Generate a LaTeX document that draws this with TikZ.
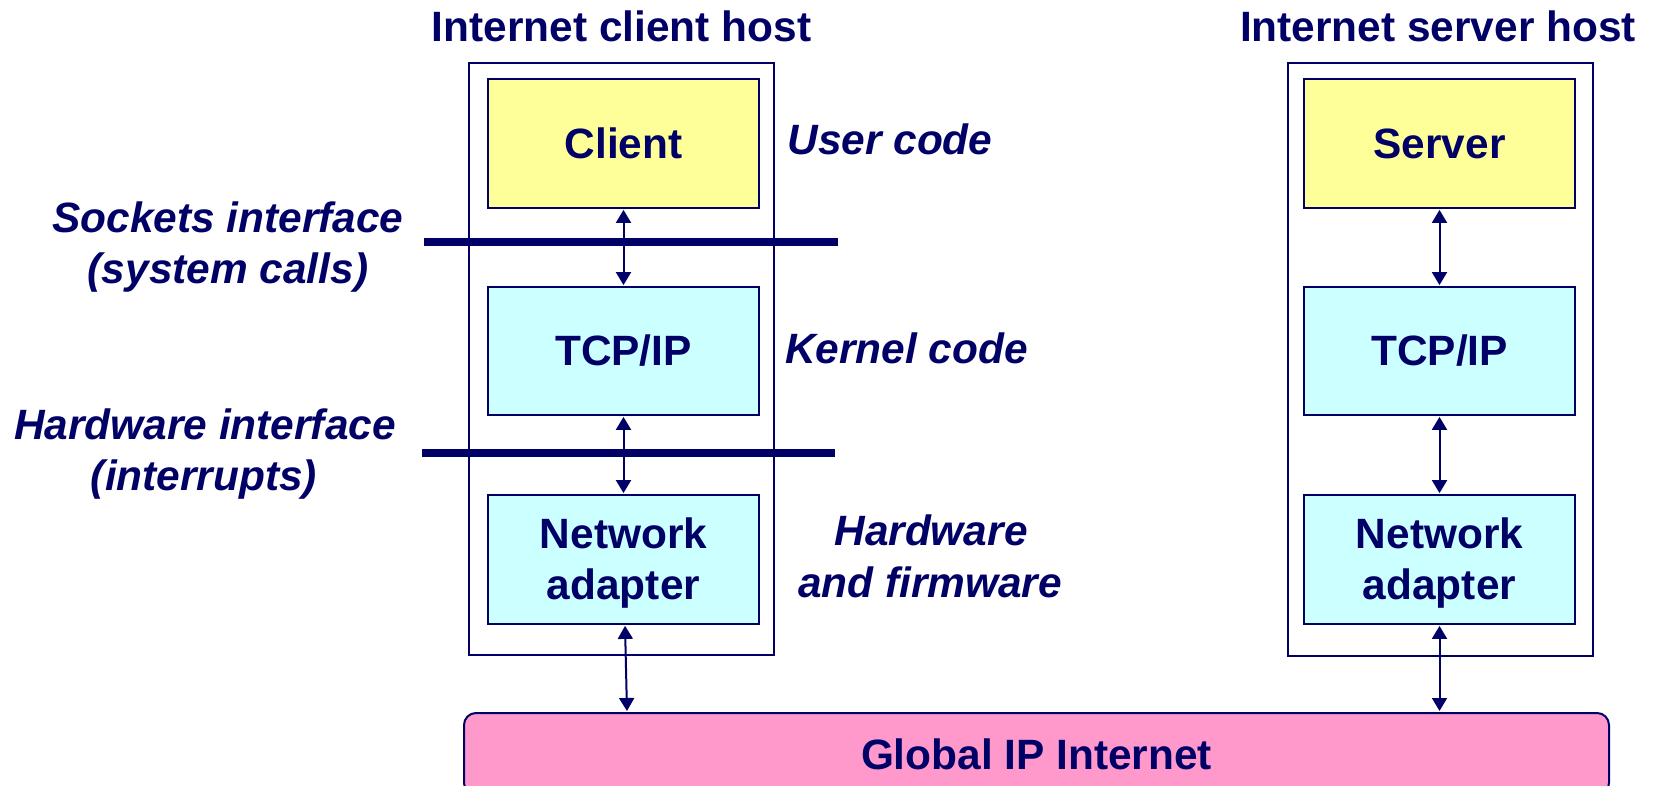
\documentclass[tikz,border=0pt]{standalone}
\usepackage{fontspec}
\setmainfont{Liberation Sans}
\usetikzlibrary{arrows.meta}
\definecolor{navy}{RGB}{0,0,102}
\definecolor{useryellow}{RGB}{255,255,153}
\definecolor{kernelcyan}{RGB}{204,255,255}
\definecolor{netpink}{RGB}{255,153,204}
\begin{document}
\begin{tikzpicture}[x=0.5pt,y=-0.5pt,
  every node/.style={text=navy, font=\fontsize{21.2}{25.5}\selectfont\bfseries},
  hostbox/.style={draw=navy, line width=1pt, minimum width=152.5pt, minimum height=296pt, inner sep=0pt},
  layerbox/.style={draw=navy, line width=0.9pt, minimum width=135.5pt, inner sep=0pt, align=center},
  userbox/.style={layerbox, fill=useryellow, minimum height=64.5pt},
  kernbox/.style={layerbox, fill=kernelcyan, minimum height=64pt},
  hwbox/.style={layerbox, fill=kernelcyan, minimum height=64.5pt},
  netbox/.style={draw=navy, line width=1pt, fill=netpink, rounded corners=6pt, minimum width=572.5pt, minimum height=41pt, inner sep=0pt},
  lbl/.style={anchor=base, font=\fontsize{21.2}{25.5}\selectfont\bfseries\itshape},
  ttl/.style={anchor=base},
  iface/.style={draw=navy, line width=4pt},
  link/.style={draw=navy, line width=1pt, {Triangle[length=6.5pt,width=7.5pt]}-{Triangle[length=6.5pt,width=7.5pt]}, shorten <=0.5pt, shorten >=0.5pt}]
\useasboundingbox (0,0) rectangle (1653,786);

% titles
\node[ttl] (tclient) at (621.5,42) {Internet client host};
\node[ttl] (tserver) at (1438,42) {Internet server host};

% host frames
\node[hostbox] (chost) at (621.5,359) {};
\node[hostbox] (shost) at (1440.5,359.5) {};

% global internet
\node[netbox] (inet) at (1036.5,754) {Global IP Internet};

% interface lines
\coordinate (sockL) at (424,242);
\coordinate (sockR) at (838,242);
\coordinate (hwL) at (422,453);
\coordinate (hwR) at (835,453);
\draw[iface] (sockL) -- (sockR);
\draw[iface] (hwL) -- (hwR);

% client stack
\node[userbox] (client) at (623.5,143.5) {Client};
\node[kernbox] (ctcp) at (623.5,351) {TCP/IP};
\node[hwbox] (cnet) at (623.5,559.5) {\rule{0pt}{19pt}Network\\adapter};

% server stack
\node[userbox] (server) at (1439.5,143.5) {Server};
\node[kernbox] (stcp) at (1439.5,351) {TCP/IP};
\node[hwbox] (snet) at (1439.5,559.5) {\rule{0pt}{19pt}Network\\adapter};

% connectors
\draw[link] (client.south) -- (ctcp.north);
\draw[link] (ctcp.south) -- (cnet.north);
\coordinate (cin) at (627,713);
\draw[link] ([xshift=0.75pt]cnet.south) -- (cin |- inet.north);
\draw[link] (server.south) -- (stcp.north);
\draw[link] (stcp.south) -- (snet.north);
\draw[link] (snet.south) -- (snet.south |- inet.north);

% side labels
\node[lbl] (user) at (890,155) {User code};
\node[lbl] (kern) at (906.5,363) {Kernel code};
\node[lbl] (hw1) at (931,545) {Hardware};
\node[lbl] (hw2) at (930,597) {and firmware};
\node[lbl] (sock1) at (228,233) {Sockets interface};
\node[lbl] (sock2) at (228,283) {(system calls)};
\node[lbl] (hwi1) at (205,439) {Hardware interface};
\node[lbl] (hwi2) at (204,490) {(interrupts)};
\end{tikzpicture}
\end{document}
